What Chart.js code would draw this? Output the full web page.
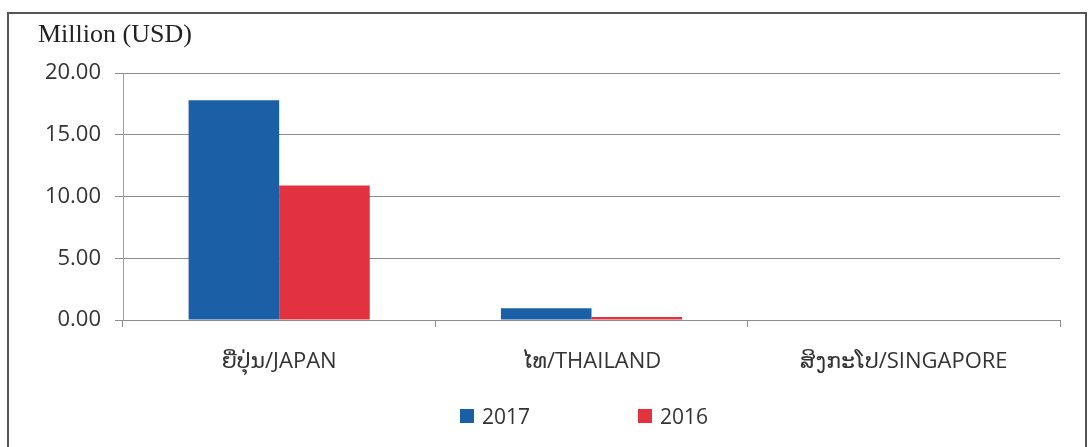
<!DOCTYPE html>
<html>
<head>
<meta charset="utf-8">
<script src="https://cdn.jsdelivr.net/npm/chart.js@4/dist/chart.umd.min.js"></script>
<style>
  html, body { margin: 0; padding: 0; background: #fff; }
  #wrap { position: relative; width: 1092px; height: 447px; overflow: hidden; }
  #frame {
    position: absolute; left: 7px; top: 12px; width: 1080px; height: 460px;
    border: 2px solid #555; box-sizing: border-box;
  }
  #chart { position: absolute; left: 0; top: 0; }
  #legend {
    position: absolute; left: 460px; top: 402px; display: flex; align-items: center;
    font: 21px "Open Sans", "DejaVu Sans", sans-serif; color: #333;
  }
  #legend .item { display: flex; align-items: center; }
  #legend .item + .item { margin-left: 108px; }
  #legend .box { width: 14px; height: 14px; margin-right: 8px; }
</style>
</head>
<body>
<div id="wrap">
  <div id="frame"></div>
  <canvas id="chart" width="1092" height="447"></canvas>
  <div id="legend"></div>
</div>
<script>
"use strict";

// ─── Data ─────────────────────────────────────────────────────
const categories = ["ຍີ່ປຸ່ນ/JAPAN", "ໄທ/THAILAND", "ສິງກະໂປ/SINGAPORE"];
const years = ["2017", "2016"];
const values2017 = [17.8, 0.95, 0];
const values2016 = [10.9, 0.25, 0];
const yTicks = [0, 5, 10, 15, 20];

const blue = "#1b5fa6";
const red = "#e2323f";
const grid = "#8c8c8c";
const sans = "'Open Sans', 'DejaVu Sans', sans-serif";

const chart = new Chart(document.getElementById("chart"), {
  type: "bar",
  data: {
    labels: categories,
    datasets: [
      { label: years[0], data: values2017, backgroundColor: blue },
      { label: years[1], data: values2016, backgroundColor: red },
    ],
  },
  options: {
    responsive: false,
    animation: false,
    layout: { padding: { left: 38, right: 32, top: 20, bottom: 67 } },
    datasets: { bar: { categoryPercentage: 0.58, barPercentage: 1.0 } },
    plugins: {
      legend: { display: false },
      tooltip: { enabled: false },
      title: {
        display: true,
        text: "Million (USD)",
        align: "start",
        color: "#222",
        font: { family: "'Liberation Serif', serif", size: 26, weight: "normal" },
        padding: { top: 0, bottom: 22 },
      },
    },
    scales: {
      x: {
        afterFit: (s) => { s.height = 60; },
        grid: { drawOnChartArea: false, drawTicks: true, tickLength: 7, color: grid },
        border: { display: true, color: grid },
        ticks: { color: "#333", padding: 22, font: { family: sans, size: 22 } },
      },
      y: {
        min: 0,
        max: 20,
        afterFit: (s) => { s.width = 85; },
        afterBuildTicks: (s) => { s.ticks = yTicks.map((v) => ({ value: v })); },
        grid: { color: grid, tickLength: 8 },
        border: { display: true, color: "#9a9ab0" },
        ticks: {
          color: "#333",
          padding: 14,
          font: { family: sans, size: 22 },
          callback: (v) => v.toFixed(2),
        },
      },
    },
  },
});

// ─── Legend (HTML, spaced like the original) ──────────────────
const legend = document.getElementById("legend");
chart.data.datasets.forEach((ds) => {
  const item = document.createElement("span");
  item.className = "item";
  item.innerHTML = `<span class="box" style="background:${ds.backgroundColor}"></span>${ds.label}`;
  legend.appendChild(item);
});
</script>
</body>
</html>
